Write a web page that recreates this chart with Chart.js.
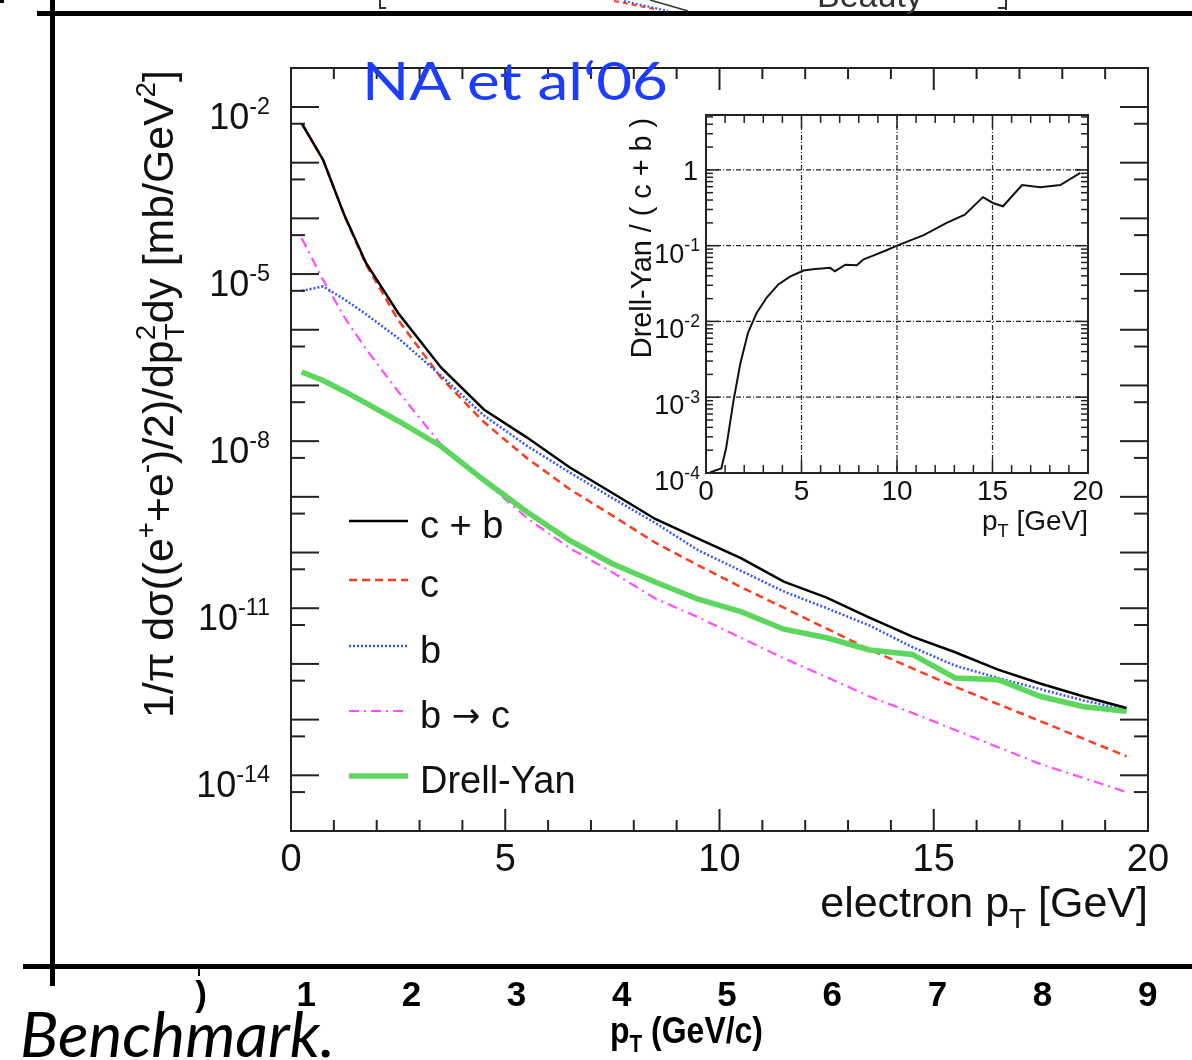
<!DOCTYPE html>
<html>
<head>
<meta charset="utf-8">
<script src="https://cdn.jsdelivr.net/npm/chart.js@4.4.1/dist/chart.umd.min.js"></script>
<style>
  html, body { margin: 0; padding: 0; background: #fff; }
  #wrap { position: relative; width: 1192px; height: 1060px; overflow: hidden; }
  #wrap canvas { position: absolute; left: 0; top: 0; }
</style>
</head>
<body>
<div id="wrap">
  <canvas id="mainChart" width="1192" height="1060"></canvas>
  <canvas id="insetChart" width="1192" height="1060"></canvas>
</div>
<script>
// electron pT bin centres [GeV]
const ptBins = [0.25, 0.75, 1.25, 1.75, 2.5, 3.5, 4.5, 5.5, 6.5, 7.5, 8.5, 9.5,
  10.5, 11.5, 12.5, 13.5, 14.5, 15.5, 16.5, 17.5, 18.5, 19.5];

// invariant cross sections [mb/GeV^2]
const sigmaCB = [5.1e-3, 1.12e-3, 1.12e-4, 1.58e-5, 2.0e-6, 2.1e-7, 3.7e-8, 1.17e-8, 3.4e-9, 1.17e-9, 4.0e-10, 1.78e-10,
  7.9e-11, 3.0e-11, 1.55e-11, 6.8e-12, 3.1e-12, 1.62e-12, 7.9e-13, 4.4e-13, 2.6e-13, 1.62e-13];
const sigmaC = [5.1e-3, 1.12e-3, 1.10e-4, 1.48e-5, 1.5e-6, 1.38e-7, 2.2e-8, 5.0e-9, 1.38e-9, 4.6e-10, 1.5e-10, 5.9e-11,
  2.4e-11, 1.02e-11, 4.3e-12, 1.82e-12, 8.3e-13, 3.9e-13, 1.9e-13, 9.3e-14, 4.5e-14, 2.2e-14];
const sigmaB = [5.0e-6, 6.0e-6, 3.5e-6, 1.9e-6, 7.1e-7, 1.5e-7, 2.9e-8, 8.3e-9, 2.75e-9, 9.5e-10, 3.4e-10, 1.10e-10,
  4.7e-11, 2.0e-11, 1.0e-11, 4.9e-12, 2.0e-12, 9.3e-13, 5.6e-13, 3.5e-13, 2.2e-13, 1.5e-13];
const sigmaBC = [4.4e-5, 7.8e-6, 1.66e-6, 4.5e-7, 7.8e-8, 8.7e-9, 1.95e-9, 4.2e-10, 1.2e-10, 4.4e-11, 1.5e-11, 6.9e-12,
  2.95e-12, 1.26e-12, 5.8e-13, 2.6e-13, 1.32e-13, 6.5e-14, 3.2e-14, 1.58e-14, 8.9e-15, 5.0e-15];
const sigmaDY = [1.74e-7, 1.23e-7, 7.8e-8, 4.8e-8, 2.3e-8, 8.1e-9, 2.0e-9, 5.4e-10, 1.66e-10, 6.3e-11, 2.95e-11, 1.45e-11,
  8.7e-12, 4.2e-12, 2.95e-12, 1.78e-12, 1.48e-12, 5.6e-13, 5.2e-13, 2.6e-13, 1.7e-13, 1.41e-13];

// Drell-Yan / (c + b)
const ratioPt = [0.2, 0.8, 1.05, 1.45, 1.8, 2.2, 2.65, 3.2, 3.8, 4.4, 5.1, 5.6, 6.5, 6.75, 7.3, 7.9, 8.25, 8.75,
  9.45, 10.0, 11.4, 12.6, 13.55, 14.5, 15.05, 15.55, 16.55, 17.5, 18.55, 19.6];
const ratioDY = [1.02e-4, 1.15e-4, 2.1e-4, 9.3e-4, 2.8e-3, 7.1e-3, 1.29e-2, 2.1e-2, 3.1e-2, 3.9e-2, 4.7e-2, 4.9e-2,
  5.1e-2, 4.6e-2, 5.6e-2, 5.5e-2, 6.6e-2, 7.4e-2, 8.7e-2, 0.10, 0.138, 0.20, 0.257, 0.437, 0.363, 0.331, 0.631,
  0.589, 0.631, 0.912];

const mainXLabels = [0, 5, 10, 15, 20];
const mainYLabelExp = [-2, -5, -8, -11, -14];
const insetXLabels = [0, 5, 10, 15, 20];
const insetYLabelExp = [0, -1, -2, -3, -4];
const legendLabels = [
  [['c + b']],
  [['c']],
  [['b']],
  [['b '], ['\u2192', 'sym'], [' c']],
  [['Drell-Yan']]
];
const lowerAxisLabels = [')', '1', '2', '3', '4', '5', '6', '7', '8', '9'];

const SANS = '"Liberation Sans", Arial, Helvetica, sans-serif';
const SYM = '"DejaVu Sans", sans-serif';
const INK = '#222';

function pts(xs, ys) {
  return xs.map(function (x, i) { return { x: x, y: ys[i] }; });
}

function setFont(ctx, size, weight, family) {
  ctx.font = (weight || '') + ' ' + size.toFixed(1) + 'px ' + (family || SANS);
}

// text pieces: [text] normal, [text,'sup'], [text,'sub'], [text,'sym'], [sup,'stack',sub]
function pieceWidth(ctx, p, size, weight) {
  const kind = p[1] || 'n';
  if (kind === 'n') { setFont(ctx, size, weight); return ctx.measureText(p[0]).width; }
  if (kind === 'sym') { setFont(ctx, size * 0.9, '', SYM); return ctx.measureText(p[0]).width; }
  setFont(ctx, size * 0.65, weight);
  if (kind === 'stack') return Math.max(ctx.measureText(p[0]).width, ctx.measureText(p[2]).width);
  return ctx.measureText(p[0]).width;
}

function richWidth(ctx, parts, size, weight) {
  let w = 0;
  parts.forEach(function (p) { w += pieceWidth(ctx, p, size, weight); });
  return w;
}

function drawRich(ctx, parts, x, y, size, align, weight) {
  const w = richWidth(ctx, parts, size, weight);
  let cx = align === 'right' ? x - w : (align === 'center' ? x - w / 2 : x);
  ctx.textAlign = 'left';
  ctx.textBaseline = 'alphabetic';
  parts.forEach(function (p) {
    const kind = p[1] || 'n';
    const pw = pieceWidth(ctx, p, size, weight);   // also sets the font
    if (kind === 'n') {
      ctx.fillText(p[0], cx, y);
    } else if (kind === 'sym') {
      ctx.fillText(p[0], cx, y - size * 0.02);
    } else if (kind === 'sup') {
      ctx.fillText(p[0], cx, y - size * 0.42);
    } else if (kind === 'sub') {
      ctx.fillText(p[0], cx, y + size * 0.25);
    } else {
      ctx.fillText(p[0], cx, y - size * 0.42);
      ctx.fillText(p[2], cx, y + size * 0.25);
    }
    cx += pw;
  });
}

function seg(ctx, x1, y1, x2, y2) {
  ctx.beginPath();
  ctx.moveTo(x1, y1);
  ctx.lineTo(x2, y2);
  ctx.stroke();
}

// fit a plain string into a given width (scaled horizontally)
function fitText(ctx, text, x, y, font, width) {
  ctx.font = font;
  const w = ctx.measureText(text).width;
  ctx.save();
  ctx.translate(x, y);
  ctx.scale(width / w, 1);
  ctx.textAlign = 'left';
  ctx.textBaseline = 'alphabetic';
  ctx.fillText(text, 0, 0);
  ctx.restore();
}

const lineStyles = [
  { color: '#000000', width: 2.5, dash: [] },
  { color: '#ff3b1f', width: 2.5, dash: [8, 5] },
  { color: '#3355ff', width: 2.5, dash: [2, 2] },
  { color: '#ff4dff', width: 2.2, dash: [10, 5, 2, 5] },
  { color: '#5cd65c', width: 5.5, dash: [] }
];

const mainDecor = {
  id: 'mainDecor',
  afterDraw: function (chart) {
    const ctx = chart.ctx;
    const xs = chart.scales.x, ys = chart.scales.y, a = chart.chartArea;
    ctx.save();
    ctx.strokeStyle = INK;
    ctx.fillStyle = INK;

    // frame
    ctx.lineWidth = 2;
    ctx.strokeRect(a.left, a.top, a.right - a.left, a.bottom - a.top);

    // x ticks, inward on bottom and top
    for (let v = 1; v < 20; v++) {
      const px = xs.getPixelForValue(v);
      const len = v % 5 === 0 ? 22 : 11;
      seg(ctx, px, a.bottom, px, a.bottom - len);
      seg(ctx, px, a.top, px, a.top + len);
    }
    // y ticks: decades long, half-decades short
    for (let n = -15; n <= -1; n++) {
      const d = Math.pow(10, n);
      [[d, 28], [0.5 * d, 14]].forEach(function (t) {
        if (t[0] <= ys.min || t[0] >= ys.max) return;
        const py = ys.getPixelForValue(t[0]);
        seg(ctx, a.left, py, a.left + t[1], py);
        seg(ctx, a.right, py, a.right - t[1], py);
      });
    }

    // tick labels
    ctx.fillStyle = '#111';
    mainXLabels.forEach(function (v) {
      drawRich(ctx, [[String(v)]], xs.getPixelForValue(v), 871, 38, 'center');
    });
    mainYLabelExp.forEach(function (e) {
      const py = ys.getPixelForValue(Math.pow(10, e));
      drawRich(ctx, [['10'], [String(e), 'sup']], 270, py + 22, 36, 'right');
    });

    // axis titles
    drawRich(ctx, [['electron p'], ['T', 'sub'], [' [GeV]']], a.right, 917, 43, 'right');
    const yTitle = [['1/\u03c0 d\u03c3((e'], ['+', 'sup'], ['+e'], ['-', 'sup'], [')/2)/dp'], ['2', 'stack', 'T'],
      ['dy [mb/GeV'], ['2', 'sup'], [']']];
    const ySize = 36 * 648 / richWidth(ctx, yTitle, 36);
    ctx.save();
    ctx.translate(173, 394);
    ctx.rotate(-Math.PI / 2);
    drawRich(ctx, yTitle, 0, 0, ySize, 'center');
    ctx.restore();

    // legend
    const legendBase = [538, 597, 663, 728, 793];
    legendLabels.forEach(function (lab, i) {
      const st = lineStyles[i];
      const ly = legendBase[i] - 17;
      ctx.save();
      ctx.strokeStyle = st.color;
      ctx.lineWidth = st.width;
      ctx.setLineDash(st.dash);
      seg(ctx, 349, ly, 408, ly);
      ctx.restore();
      ctx.fillStyle = '#111';
      drawRich(ctx, lab, 420, legendBase[i], 38, 'left');
    });

    // publication tag
    ctx.fillStyle = '#1c3cff';
    fitText(ctx, 'NA et al\u201806', 362, 100, '52px Lato, "Open Sans", sans-serif', 306);

    // surrounding slide elements
    ctx.fillStyle = '#000';
    ctx.fillRect(37, 11, 1192 - 37, 5);
    ctx.fillRect(50, 0, 5, 986);
    ctx.fillRect(23, 964, 1192 - 23, 5);
    ctx.fillRect(0, 0, 4, 3);
    ctx.fillRect(198, 967, 2, 9);
    ctx.strokeStyle = '#333';
    ctx.lineWidth = 2;
    seg(ctx, 380, 0, 380, 9);
    seg(ctx, 380, 8, 386, 8);
    seg(ctx, 1006, 0, 1006, 10);
    seg(ctx, 998, 8, 1006, 8);
    ctx.lineWidth = 1.5;
    seg(ctx, 650, 0, 688, 11);
    ctx.save();
    ctx.strokeStyle = '#ff3b1f';
    ctx.lineWidth = 2;
    ctx.setLineDash([5, 4]);
    seg(ctx, 614, 1, 654, 9);
    ctx.strokeStyle = '#3355ff';
    ctx.setLineDash([2, 2]);
    seg(ctx, 624, 1, 668, 11);
    ctx.restore();
    ctx.fillStyle = '#333';
    setFont(ctx, 34);
    ctx.textAlign = 'left';
    ctx.fillText('Beauty', 817, 7);

    ctx.fillStyle = '#000';
    lowerAxisLabels.forEach(function (lab, i) {
      drawRich(ctx, [[lab]], 201 + i * 105.2, 1006, 35, 'center', 'bold');
    });
    const lowerTitle = [['p'], ['T', 'sub'], [' (GeV/c)']];
    ctx.save();
    ctx.translate(610, 1043);
    ctx.scale(153 / richWidth(ctx, lowerTitle, 36, 'bold'), 1);
    drawRich(ctx, lowerTitle, 0, 0, 36, 'left', 'bold');
    ctx.restore();
    fitText(ctx, 'Benchmark.', 20, 1057, 'italic 62px Lato, "Open Sans", sans-serif', 315);

    ctx.restore();
  }
};

const insetDecor = {
  id: 'insetDecor',
  afterDraw: function (chart) {
    const ctx = chart.ctx;
    const xs = chart.scales.x, ys = chart.scales.y, a = chart.chartArea;
    ctx.save();
    ctx.strokeStyle = INK;

    // dash-dotted grid
    ctx.lineWidth = 1.2;
    ctx.setLineDash([5, 2, 1, 2]);
    [5, 10, 15].forEach(function (v) {
      const px = xs.getPixelForValue(v);
      seg(ctx, px, a.top, px, a.bottom);
    });
    [1e-3, 1e-2, 1e-1, 1].forEach(function (v) {
      const py = ys.getPixelForValue(v);
      seg(ctx, a.left, py, a.right, py);
    });
    ctx.setLineDash([]);

    // frame and ticks
    ctx.lineWidth = 2;
    ctx.strokeRect(a.left, a.top, a.right - a.left, a.bottom - a.top);
    ctx.lineWidth = 1.5;
    for (let v = 1; v < 20; v++) {
      const px = xs.getPixelForValue(v);
      const len = v % 5 === 0 ? 13 : 8;
      seg(ctx, px, a.bottom, px, a.bottom - len);
      seg(ctx, px, a.top, px, a.top + len);
    }
    for (let n = -4; n <= 0; n++) {
      for (let k = 1; k <= 9; k++) {
        const v = k * Math.pow(10, n);
        if (v <= ys.min || v >= ys.max) continue;
        const py = ys.getPixelForValue(v);
        const len = k === 1 ? 13 : 7;
        seg(ctx, a.left, py, a.left + len, py);
        seg(ctx, a.right, py, a.right - len, py);
      }
    }

    // labels
    ctx.fillStyle = '#111';
    insetXLabels.forEach(function (v) {
      drawRich(ctx, [[String(v)]], xs.getPixelForValue(v), 500, 28, 'center');
    });
    insetYLabelExp.forEach(function (e) {
      const py = ys.getPixelForValue(Math.pow(10, e));
      if (e === 0) {
        drawRich(ctx, [['1']], 698, py + 10, 27, 'right');
      } else {
        drawRich(ctx, [['10'], [String(e), 'sup']], 700, py + 17, 27, 'right');
      }
    });
    drawRich(ctx, [['p'], ['T', 'sub'], [' [GeV]']], a.right, 530, 28, 'right');
    ctx.save();
    ctx.translate(651, 238);
    ctx.rotate(-Math.PI / 2);
    const t = [['Drell-Yan / ( c + b )']];
    drawRich(ctx, t, 0, 0, 28 * 240 / richWidth(ctx, t, 28), 'center');
    ctx.restore();
    ctx.restore();
  }
};

function seriesDataset(label, ys, st) {
  return {
    label: label,
    data: pts(ptBins, ys),
    borderColor: st.color,
    borderWidth: st.width,
    borderDash: st.dash,
    pointRadius: 0,
    tension: 0,
    fill: false
  };
}

document.addEventListener('DOMContentLoaded', function () {
  // main spectra; first dataset is painted on top
  new Chart(document.getElementById('mainChart'), {
    type: 'line',
    data: {
      datasets: [
        seriesDataset('c + b', sigmaCB, lineStyles[0]),
        seriesDataset('Drell-Yan', sigmaDY, lineStyles[4]),
        seriesDataset('b', sigmaB, lineStyles[2]),
        seriesDataset('c', sigmaC, lineStyles[1]),
        seriesDataset('b \u2192 c', sigmaBC, lineStyles[3])
      ]
    },
    options: {
      responsive: false,
      animation: false,
      events: [],
      layout: { padding: { left: 291, right: 44, top: 68, bottom: 229 } },
      plugins: { legend: { display: false }, tooltip: { enabled: false } },
      scales: {
        x: { type: 'linear', min: 0, max: 20, display: false },
        y: { type: 'logarithmic', min: 1e-15, max: 0.0501, display: false }
      }
    },
    plugins: [mainDecor]
  });

  // ratio inset
  new Chart(document.getElementById('insetChart'), {
    type: 'line',
    data: {
      datasets: [{
        label: 'Drell-Yan / (c + b)',
        data: pts(ratioPt, ratioDY),
        borderColor: '#111',
        borderWidth: 2,
        pointRadius: 0,
        tension: 0,
        fill: false
      }]
    },
    options: {
      responsive: false,
      animation: false,
      events: [],
      layout: { padding: { left: 706, right: 104, top: 115, bottom: 587 } },
      plugins: { legend: { display: false }, tooltip: { enabled: false } },
      scales: {
        x: { type: 'linear', min: 0, max: 20, display: false },
        y: { type: 'logarithmic', min: 1e-4, max: 5.3, display: false }
      }
    },
    plugins: [insetDecor]
  });
});
</script>
</body>
</html>
